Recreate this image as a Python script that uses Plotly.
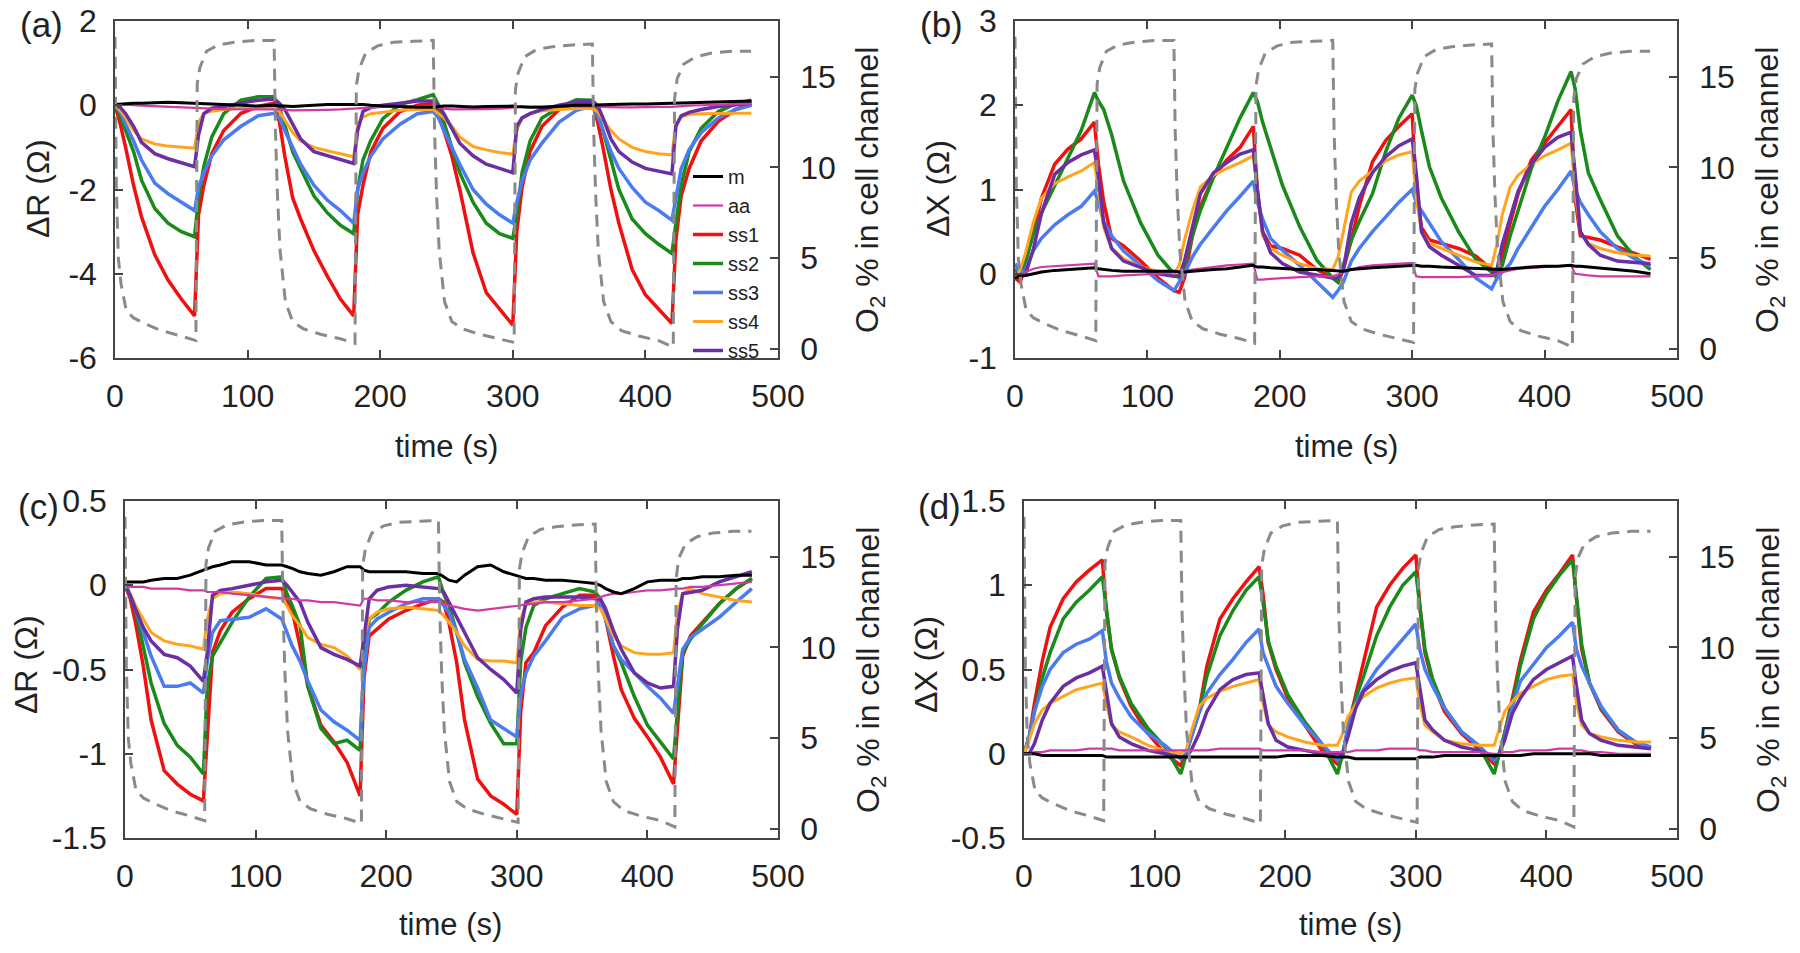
import plotly.graph_objects as go

# ---------------- data ----------------
# common time grid (s) for the impedance traces
T = [0, 4, 8, 14, 20, 30, 40, 50, 60, 63, 67, 73, 82, 95, 108,
     120, 124, 128, 134, 140, 150, 160, 170, 180, 183, 187, 193, 202, 215, 228,
     240, 244, 248, 254, 260, 270, 280, 290, 300, 303, 307, 313, 322, 335, 348,
     360, 364, 368, 374, 380, 390, 400, 410, 420, 423, 427, 433, 442, 455, 468,
     480]

# O2 % in cell channel (dashed grey)
T_O2 = [0, 1, 2.5, 4.5, 8.5, 14, 22, 35, 50, 61, 62, 64, 69, 78, 90, 105, 119.7,
        120, 121, 122.5, 124.5, 128.5, 134, 142, 155, 170, 181, 182, 184, 189, 198, 210, 225, 239.7,
        240, 241, 242.5, 244.5, 248.5, 254, 262, 275, 290, 301, 302, 304, 309, 318, 330, 345, 359.7,
        360, 361, 362.5, 364.5, 368.5, 374, 382, 395, 410, 421, 422, 424, 429, 438, 450, 465, 479.7]
O2 = [17.2, 9.0, 5.0, 3.6, 2.1, 1.7, 1.4, 1.0, 0.7, 0.45, 14.6, 15.5, 16.4, 16.75, 16.9, 17.0, 17.0,
      17.0, 12.0, 8.5, 5.4, 2.6, 1.5, 1.1, 0.8, 0.55, 0.3, 14.5, 15.4, 16.3, 16.7, 16.9, 16.95, 17.0,
      17.0, 12.0, 8.5, 5.4, 2.6, 1.5, 1.1, 0.8, 0.55, 0.35, 14.3, 15.2, 16.1, 16.5, 16.65, 16.75, 16.8,
      16.8, 12.0, 8.5, 5.4, 2.6, 1.5, 1.0, 0.7, 0.45, 0.1, 13.8, 14.9, 15.7, 16.1, 16.3, 16.4, 16.4]

# ---- panel (a): delta R ----
A_m = [0.02, 0.03, 0.04, 0.05, 0.05, 0.06, 0.07, 0.06, 0.05, 0.05, 0.04, 0.03, 0.02, 0.0, -0.02,
       0.0, -0.02, -0.02, -0.03, -0.02, 0.0, 0.02, 0.02, 0.03, 0.02, 0.02, 0.0, -0.02, -0.03, -0.05,
       -0.05, -0.03, -0.02, -0.02, -0.03, -0.04, -0.03, -0.02, -0.02, -0.03, -0.04, -0.05, -0.05, -0.03, 0.0,
       0.0, 0.0, 0.01, 0.02, 0.03, 0.03, 0.03, 0.04, 0.05, 0.05, 0.05, 0.06, 0.07, 0.09, 0.1,
       0.1]
A_aa = [0.03, 0.02, 0.0, 0.0, -0.01, -0.02, -0.03, -0.04, -0.05, -0.06, -0.07, -0.08, -0.09, -0.1, -0.1,
        -0.1, -0.1, -0.11, -0.12, -0.12, -0.12, -0.11, -0.1, -0.08, -0.07, -0.06, -0.05, -0.04, -0.03, -0.02,
        -0.02, -0.05, -0.08, -0.1, -0.1, -0.1, -0.09, -0.08, -0.07, -0.05, -0.04, -0.04, -0.03, -0.02, -0.02,
        -0.02, -0.03, -0.04, -0.05, -0.05, -0.05, -0.04, -0.04, -0.04, -0.03, -0.02, -0.01, 0.0, 0.01, 0.02,
        0.04]
A_ss1 = [0, -0.45, -1.0, -1.9, -2.65, -3.55, -4.15, -4.6, -5.0, -2.6, -1.9, -1.15, -0.6, -0.19, -0.03,
         0.05, -0.4, -1.2, -2.2, -2.7, -3.45, -4.05, -4.6, -5.0, -2.6, -1.9, -1.1, -0.55, -0.15, 0.0,
         0.05, -0.2, -0.6, -1.2, -2.0, -3.5, -4.45, -4.85, -5.22, -3.0, -1.95, -1.1, -0.5, -0.1, 0.05,
         0.05, -0.4, -1.0, -2.0, -2.8, -3.9, -4.5, -4.85, -5.18, -3.2, -2.15, -1.5, -0.85, -0.38, -0.1,
         0.02]
A_ss2 = [0, -0.25, -0.6, -1.1, -1.78, -2.45, -2.8, -3.0, -3.12, -2.2, -1.45, -0.75, -0.2, 0.12, 0.2,
         0.2, -0.05, -0.5, -1.1, -1.5, -2.15, -2.55, -2.85, -3.05, -2.0, -1.3, -0.83, -0.32, 0.02, 0.13,
         0.25, 0.0, -0.4, -1.0, -1.6, -2.3, -2.8, -3.05, -3.16, -2.6, -1.6, -0.85, -0.3, -0.05, 0.13,
         0.12, -0.2, -0.6, -1.3, -2.0, -2.7, -3.05, -3.3, -3.52, -2.8, -1.9, -1.1, -0.55, -0.15, 0.03,
         0.12]
A_ss3 = [0, -0.15, -0.45, -0.85, -1.3, -1.85, -2.1, -2.3, -2.5, -1.95, -1.6, -1.2, -0.82, -0.5, -0.25,
         -0.19, -0.3, -0.6, -1.0, -1.4, -1.9, -2.25, -2.5, -2.8, -2.0, -1.6, -1.2, -0.8, -0.45, -0.2,
         -0.15, -0.3, -0.6, -1.0, -1.4, -2.0, -2.35, -2.6, -2.8, -2.3, -1.8, -1.3, -0.9, -0.4, -0.12,
         -0.02, -0.25, -0.6, -1.1, -1.5, -1.95, -2.3, -2.5, -2.73, -2.2, -1.5, -1.05, -0.65, -0.3, -0.1,
         0.0]
A_ss4 = [0, -0.12, -0.3, -0.6, -0.8, -0.92, -0.97, -1.0, -1.02, -0.4, -0.2, -0.14, -0.1, -0.07, -0.05,
         -0.05, -0.15, -0.35, -0.65, -0.85, -1.0, -1.08, -1.15, -1.22, -0.45, -0.28, -0.2, -0.17, -0.12, -0.1,
         -0.1, -0.2, -0.3, -0.5, -0.75, -0.98, -1.06, -1.12, -1.16, -0.6, -0.3, -0.2, -0.13, -0.1, -0.08,
         -0.08, -0.15, -0.35, -0.6, -0.8, -1.0, -1.1, -1.15, -1.18, -0.45, -0.28, -0.22, -0.2, -0.19, -0.19,
         -0.19]
A_ss5 = [0, -0.05, -0.2, -0.5, -0.88, -1.15, -1.27, -1.36, -1.46, -0.7, -0.2, -0.07, -0.03, 0.05, 0.12,
         0.15, 0.05, -0.1, -0.45, -0.8, -1.1, -1.2, -1.3, -1.38, -0.6, -0.15, -0.05, 0.0, 0.05, 0.1,
         0.1, 0.0, -0.2, -0.55, -0.9, -1.2, -1.4, -1.5, -1.6, -0.5, -0.3, -0.2, -0.1, 0.0, 0.08,
         0.1, 0.0, -0.3, -0.8, -1.1, -1.35, -1.5, -1.57, -1.63, -0.5, -0.25, -0.17, -0.1, -0.03, 0.02,
         0.05]

# ---- panel (b): delta X ----
B_m = [-0.05, -0.03, -0.02, 0.0, 0.02, 0.04, 0.05, 0.06, 0.07, 0.06, 0.05, 0.04, 0.03, 0.03, 0.03,
       0.03, 0.02, 0.02, 0.03, 0.04, 0.05, 0.06, 0.08, 0.1, 0.08, 0.08, 0.07, 0.06, 0.05, 0.05,
       0.04, 0.03, 0.03, 0.05, 0.06, 0.07, 0.08, 0.09, 0.1, 0.1, 0.09, 0.09, 0.08, 0.07, 0.06,
       0.05, 0.05, 0.05, 0.06, 0.07, 0.08, 0.09, 0.09, 0.1, 0.09, 0.09, 0.08, 0.07, 0.05, 0.03,
       0.0]
B_aa = [-0.05, -0.02, 0.02, 0.06, 0.08, 0.09, 0.1, 0.11, 0.12, -0.03, -0.03, -0.03, -0.02, -0.01, 0.0,
        0.02, 0.03, 0.04, 0.05, 0.06, 0.08, 0.1, 0.11, 0.12, -0.07, -0.07, -0.06, -0.05, -0.04, -0.03,
        -0.03, -0.01, 0.02, 0.05, 0.08, 0.1, 0.11, 0.12, 0.13, -0.03, -0.04, -0.04, -0.04, -0.04, -0.03,
        -0.02, 0.0, 0.02, 0.04, 0.06, 0.07, 0.08, 0.09, 0.1, 0.0, -0.01, -0.02, -0.03, -0.03, -0.03,
        -0.03]
B_ss1 = [-0.05, -0.1, 0.15, 0.5, 0.9, 1.3, 1.48, 1.6, 1.8, 1.3, 0.85, 0.42, 0.33, 0.15, -0.05,
         -0.2, -0.22, -0.05, 0.45, 0.8, 1.15, 1.35, 1.5, 1.75, 1.0, 0.5, 0.33, 0.3, 0.22, 0.05,
         -0.05, -0.1, 0.05, 0.4, 0.8, 1.33, 1.58, 1.75, 1.9, 1.0, 0.55, 0.4, 0.36, 0.3, 0.21,
         0.05, 0.0, 0.2, 0.6, 0.95, 1.35, 1.55, 1.75, 1.95, 0.9, 0.45, 0.43, 0.4, 0.32, 0.24,
         0.17]
B_ss2 = [0.05, 0.0, 0.15, 0.48, 0.72, 1.05, 1.38, 1.7, 2.15, 2.05, 1.95, 1.65, 1.1, 0.6, 0.22,
         0.0, -0.05, 0.1, 0.45, 0.75, 1.15, 1.5, 1.85, 2.15, 2.05, 1.8, 1.5, 1.05, 0.56, 0.16,
         -0.05, -0.1, 0.1, 0.4, 0.62, 0.95, 1.45, 1.85, 2.12, 2.0, 1.7, 1.27, 0.9, 0.5, 0.17,
         0.02, -0.05, 0.1, 0.45, 0.75, 1.25, 1.62, 2.05, 2.4, 2.2, 1.7, 1.2, 0.88, 0.45, 0.2,
         0.05]
B_ss3 = [0.12, 0.0, 0.05, 0.28, 0.42, 0.58, 0.7, 0.8, 0.98, 0.85, 0.62, 0.45, 0.27, 0.1, -0.08,
         -0.2, -0.1, 0.0, 0.2, 0.35, 0.55, 0.75, 0.92, 1.1, 0.85, 0.65, 0.42, 0.28, 0.1, -0.1,
         -0.28, -0.2, -0.1, 0.15, 0.3, 0.5, 0.67, 0.85, 1.0, 0.85, 0.75, 0.6, 0.38, 0.17, -0.05,
         -0.18, -0.05, 0.02, 0.12, 0.3, 0.55, 0.8, 1.0, 1.22, 1.0, 0.85, 0.7, 0.5, 0.3, 0.18,
         0.09]
B_ss4 = [-0.05, 0.05, 0.25, 0.62, 0.9, 1.07, 1.15, 1.22, 1.32, 1.0, 0.55, 0.3, 0.18, 0.08, 0.03,
         0.0, 0.1, 0.4, 0.75, 1.03, 1.17, 1.25, 1.32, 1.4, 1.0, 0.45, 0.3, 0.22, 0.12, 0.06,
         0.05, 0.2, 0.5, 0.97, 1.1, 1.22, 1.34, 1.41, 1.45, 0.9, 0.5, 0.36, 0.3, 0.22, 0.14,
         0.1, 0.35, 0.7, 1.03, 1.17, 1.3, 1.4, 1.47, 1.55, 1.0, 0.5, 0.36, 0.3, 0.25, 0.22,
         0.21]
B_ss5 = [0.0, -0.02, 0.0, 0.3, 0.72, 1.18, 1.32, 1.41, 1.47, 1.15, 0.6, 0.3, 0.15, 0.07, 0.0,
         -0.03, -0.03, 0.15, 0.55, 0.95, 1.2, 1.32, 1.42, 1.47, 1.0, 0.5, 0.25, 0.12, 0.02, -0.02,
         -0.05, -0.05, 0.05, 0.6, 0.9, 1.2, 1.39, 1.52, 1.6, 1.2, 0.5, 0.32, 0.22, 0.1, -0.02,
         -0.02, 0.05, 0.35, 0.65, 0.98, 1.3, 1.5, 1.62, 1.68, 1.2, 0.5, 0.35, 0.22, 0.15, 0.13,
         0.12]

# ---- panel (c): delta R ----
C_m = [0.02, 0.02, 0.02, 0.02, 0.03, 0.04, 0.04, 0.06, 0.09, 0.1, 0.11, 0.12, 0.14, 0.14, 0.12,
       0.12, 0.11, 0.1, 0.08, 0.07, 0.06, 0.08, 0.11, 0.11, 0.09, 0.08, 0.08, 0.08, 0.08, 0.07,
       0.07, 0.05, 0.03, 0.02, 0.06, 0.11, 0.12, 0.08, 0.06, 0.05, 0.04, 0.04, 0.03, 0.03, 0.02,
       0.01, 0.0, -0.02, -0.04, -0.05, -0.02, 0.02, 0.03, 0.03, 0.03, 0.04, 0.04, 0.05, 0.05, 0.06,
       0.06]
C_aa = [0.0, -0.01, -0.01, -0.01, -0.02, -0.02, -0.02, -0.03, -0.03, -0.04, -0.04, -0.04, -0.05, -0.06, -0.07,
        -0.08, -0.08, -0.08, -0.09, -0.09, -0.1, -0.1, -0.11, -0.12, -0.08, -0.08, -0.09, -0.09, -0.1, -0.1,
        -0.1, -0.11, -0.12, -0.13, -0.14, -0.15, -0.14, -0.13, -0.12, -0.12, -0.11, -0.11, -0.1, -0.1, -0.09,
        -0.08, -0.07, -0.06, -0.05, -0.05, -0.04, -0.03, -0.03, -0.02, -0.02, -0.02, -0.01, -0.01, 0.0, 0.01,
        0.02]
C_ss1 = [0, -0.08, -0.22, -0.48, -0.8, -1.1, -1.18, -1.24, -1.28, -0.9, -0.4, -0.27, -0.16, -0.08, -0.02,
         -0.02, -0.08, -0.15, -0.36, -0.6, -0.83, -0.93, -1.05, -1.25, -0.55, -0.3, -0.26, -0.2, -0.15, -0.11,
         -0.08, -0.1, -0.22, -0.46, -0.8, -1.15, -1.25, -1.3, -1.36, -0.75, -0.46, -0.4, -0.24, -0.13, -0.06,
         -0.06, -0.12, -0.2, -0.42, -0.62, -0.79, -0.9, -1.02, -1.18, -0.85, -0.42, -0.3, -0.22, -0.11, -0.02,
         0.04]
C_ss2 = [0, -0.06, -0.15, -0.36, -0.58, -0.82, -0.95, -1.02, -1.12, -0.6, -0.42, -0.34, -0.22, -0.07, 0.04,
         0.05, -0.05, -0.12, -0.24, -0.6, -0.85, -0.94, -0.92, -0.98, -0.45, -0.2, -0.17, -0.1, -0.03, 0.02,
         0.05, -0.05, -0.12, -0.28, -0.46, -0.66, -0.82, -0.94, -0.94, -0.45, -0.25, -0.12, -0.08, -0.05, -0.02,
         -0.04, -0.08, -0.2, -0.36, -0.46, -0.66, -0.83, -0.93, -1.03, -0.75, -0.4, -0.32, -0.23, -0.11, -0.02,
         0.04]
C_ss3 = [0.02, -0.06, -0.14, -0.28, -0.42, -0.6, -0.6, -0.58, -0.64, -0.45, -0.28, -0.21, -0.2, -0.19, -0.14,
         -0.2, -0.28, -0.36, -0.45, -0.57, -0.74, -0.81, -0.86, -0.92, -0.5, -0.25, -0.2, -0.16, -0.11, -0.08,
         -0.08, -0.12, -0.16, -0.28, -0.44, -0.61, -0.8, -0.85, -0.9, -0.65, -0.52, -0.42, -0.33, -0.19, -0.14,
         -0.12, -0.1, -0.2, -0.36, -0.44, -0.52, -0.6, -0.67, -0.76, -0.6, -0.38, -0.31, -0.26, -0.19, -0.1,
         -0.02]
C_ss4 = [0, -0.05, -0.12, -0.2, -0.28, -0.33, -0.35, -0.36, -0.38, -0.2, -0.08, -0.05, -0.04, -0.05, -0.07,
         -0.08, -0.12, -0.18, -0.24, -0.31, -0.35, -0.37, -0.42, -0.5, -0.3, -0.2, -0.16, -0.14, -0.13, -0.14,
         -0.15, -0.18, -0.22, -0.28, -0.36, -0.44, -0.45, -0.45, -0.46, -0.2, -0.12, -0.1, -0.1, -0.11, -0.12,
         -0.12, -0.14, -0.2, -0.3, -0.36, -0.4, -0.41, -0.41, -0.4, -0.16, -0.05, -0.02, -0.05, -0.07, -0.09,
         -0.1]
C_ss5 = [0, -0.06, -0.14, -0.25, -0.33, -0.41, -0.43, -0.48, -0.57, -0.4, -0.06, -0.03, -0.02, 0.0, 0.02,
         0.03, 0.0, -0.04, -0.1, -0.22, -0.37, -0.41, -0.44, -0.48, -0.3, -0.08, -0.03, -0.01, 0.0, -0.01,
         -0.02, -0.04, -0.1, -0.2, -0.29, -0.43, -0.5, -0.56, -0.64, -0.26, -0.1, -0.08, -0.07, -0.07, -0.07,
         -0.08, -0.08, -0.14, -0.27, -0.38, -0.52, -0.58, -0.61, -0.6, -0.26, -0.05, -0.04, -0.03, 0.02, 0.05,
         0.08]

# ---- panel (d): delta X ----
D_m = [0.0, 0.0, 0.0, -0.01, -0.01, -0.01, -0.01, -0.01, -0.01, -0.02, -0.02, -0.02, -0.02, -0.02, -0.02,
       -0.02, -0.02, -0.02, -0.02, -0.02, -0.02, -0.02, -0.02, -0.02, -0.02, -0.02, -0.02, -0.01, -0.01, -0.01,
       -0.02, -0.02, -0.02, -0.03, -0.03, -0.03, -0.03, -0.03, -0.03, -0.02, -0.02, -0.02, -0.01, -0.01, -0.01,
       -0.01, -0.01, -0.01, -0.01, -0.01, 0.0, 0.0, 0.0, 0.0, 0.0, 0.0, 0.0, -0.01, -0.01, -0.01,
       -0.01]
D_aa = [0.0, 0.0, 0.01, 0.01, 0.02, 0.02, 0.02, 0.03, 0.03, 0.03, 0.03, 0.02, 0.02, 0.02, 0.02,
        0.02, 0.02, 0.02, 0.02, 0.02, 0.03, 0.03, 0.03, 0.03, 0.02, 0.02, 0.02, 0.02, 0.02, 0.01,
        0.01, 0.01, 0.01, 0.02, 0.02, 0.02, 0.03, 0.03, 0.03, 0.02, 0.02, 0.01, 0.01, 0.01, 0.01,
        0.0, 0.0, 0.01, 0.01, 0.02, 0.02, 0.02, 0.03, 0.03, 0.02, 0.02, 0.01, 0.01, 0.0, 0.0,
        0.0]
D_ss1 = [0, 0.1, 0.3, 0.55, 0.75, 0.92, 1.02, 1.09, 1.15, 0.85, 0.62, 0.45, 0.28, 0.12, 0.0,
         -0.07, 0.0, 0.1, 0.25, 0.52, 0.8, 0.92, 1.02, 1.11, 0.95, 0.66, 0.5, 0.33, 0.17, 0.02,
         -0.06, -0.02, 0.15, 0.35, 0.55, 0.87, 1.0, 1.1, 1.18, 0.88, 0.6, 0.42, 0.25, 0.12, 0.03,
         -0.06, 0.0, 0.12, 0.33, 0.55, 0.84, 0.97, 1.07, 1.18, 0.92, 0.62, 0.42, 0.26, 0.13, 0.06,
         0.03]
D_ss2 = [0.0, 0.1, 0.25, 0.45, 0.6, 0.8, 0.9, 0.97, 1.05, 0.85, 0.62, 0.46, 0.3, 0.15, 0.04,
         -0.12, 0.0, 0.1, 0.25, 0.46, 0.7, 0.85, 0.97, 1.05, 0.9, 0.67, 0.52, 0.35, 0.19, 0.06,
         -0.12, 0.0, 0.15, 0.33, 0.46, 0.7, 0.87, 1.0, 1.08, 0.88, 0.62, 0.44, 0.27, 0.13, 0.05,
         -0.12, 0.0, 0.1, 0.3, 0.52, 0.8, 0.95, 1.06, 1.15, 0.95, 0.65, 0.42, 0.27, 0.14, 0.07,
         0.03]
D_ss3 = [0.0, 0.1, 0.25, 0.4, 0.5, 0.6, 0.65, 0.68, 0.73, 0.55, 0.42, 0.33, 0.22, 0.12, 0.05,
         -0.03, 0.0, 0.1, 0.24, 0.36, 0.47, 0.56, 0.66, 0.74, 0.6, 0.52, 0.4, 0.3, 0.17, 0.06,
         -0.04, 0.0, 0.15, 0.3, 0.38, 0.5, 0.59, 0.68, 0.77, 0.62, 0.5, 0.4, 0.27, 0.13, 0.05,
         -0.04, 0.0, 0.1, 0.28, 0.43, 0.53, 0.63, 0.7, 0.78, 0.62, 0.52, 0.42, 0.28, 0.14, 0.07,
         0.04]
D_ss4 = [0.0, 0.08, 0.18, 0.26, 0.3, 0.34, 0.38, 0.4, 0.42, 0.3, 0.17, 0.13, 0.1, 0.05, 0.02,
         0.0, 0.02, 0.13, 0.28, 0.33, 0.37, 0.4, 0.42, 0.44, 0.3, 0.17, 0.13, 0.1, 0.07, 0.05,
         0.05, 0.12, 0.22, 0.29, 0.34, 0.39, 0.42, 0.44, 0.45, 0.3, 0.17, 0.13, 0.08, 0.06, 0.05,
         0.05, 0.15, 0.25, 0.31, 0.36, 0.4, 0.44, 0.46, 0.47, 0.3, 0.17, 0.12, 0.1, 0.08, 0.07,
         0.07]
D_ss5 = [0.0, 0.0, 0.06, 0.2, 0.3, 0.4, 0.45, 0.48, 0.52, 0.38, 0.18, 0.1, 0.06, 0.02, 0.0,
         -0.02, -0.02, 0.02, 0.12, 0.25, 0.38, 0.44, 0.47, 0.48, 0.35, 0.18, 0.08, 0.04, 0.02, 0.0,
         0.0, 0.0, 0.1, 0.27, 0.37, 0.44, 0.49, 0.52, 0.54, 0.38, 0.2, 0.14, 0.08, 0.04, 0.02,
         -0.02, 0.0, 0.08, 0.24, 0.33, 0.44, 0.5, 0.54, 0.58, 0.4, 0.2, 0.12, 0.08, 0.05, 0.04,
         0.03]

SERIES = ["ss1", "ss2", "ss3", "ss4", "ss5", "aa", "m"]
COLORS = {"m": "#000000", "aa": "#cf3aa6", "ss1": "#f01010", "ss2": "#1a8a1a",
          "ss3": "#4a7cf0", "ss4": "#ffa41c", "ss5": "#6b2ea3"}
WIDTHS = {"m": 3, "aa": 2.2, "ss1": 3.5, "ss2": 3.5, "ss3": 3.5, "ss4": 3, "ss5": 3.5}
RANK = {"m": 1, "aa": 2, "ss1": 3, "ss2": 4, "ss3": 5, "ss4": 6, "ss5": 7}

PANELS = [
    dict(data={"m": A_m, "aa": A_aa, "ss1": A_ss1, "ss2": A_ss2, "ss3": A_ss3, "ss4": A_ss4, "ss5": A_ss5},
         x="x", y="y", y2="y2"),
    dict(data={"m": B_m, "aa": B_aa, "ss1": B_ss1, "ss2": B_ss2, "ss3": B_ss3, "ss4": B_ss4, "ss5": B_ss5},
         x="x2", y="y3", y2="y4"),
    dict(data={"m": C_m, "aa": C_aa, "ss1": C_ss1, "ss2": C_ss2, "ss3": C_ss3, "ss4": C_ss4, "ss5": C_ss5},
         x="x3", y="y5", y2="y6"),
    dict(data={"m": D_m, "aa": D_aa, "ss1": D_ss1, "ss2": D_ss2, "ss3": D_ss3, "ss4": D_ss4, "ss5": D_ss5},
         x="x4", y="y7", y2="y8"),
]

# ---------------- figure ----------------
fig = go.Figure()
for i, p in enumerate(PANELS):
    for name in SERIES:
        fig.add_trace(go.Scatter(
            x=T, y=p["data"][name], mode="lines", name=name,
            line=dict(color=COLORS[name], width=WIDTHS[name]),
            xaxis=p["x"], yaxis=p["y"], showlegend=(i == 0), legendrank=RANK[name]))
    fig.add_trace(go.Scatter(
        x=T_O2, y=O2, mode="lines", name="O2",
        line=dict(color="#8a8a8a", width=3, dash="12px,8px"),
        xaxis=p["x"], yaxis=p["y2"], showlegend=False))

FONT = "Liberation Sans, Arial, Helvetica, sans-serif"
TXT = "#222222"
W, H = 1800, 953

def px_x(v):
    return v / W

def px_y(v):
    return 1 - v / H

axcommon = dict(showline=True, linecolor="#444444", linewidth=1.5, ticks="inside", ticklen=8,
                tickwidth=1.5, tickcolor="#444444", showgrid=False, zeroline=False, automargin=False,
                tickfont=dict(family=FONT, size=32, color=TXT))

xdom = [[px_x(115), px_x(778)], [px_x(1015), px_x(1677)], [px_x(125), px_x(778)], [px_x(1024), px_x(1677)]]
ydom = [[px_y(358), px_y(21)], [px_y(358), px_y(21)], [px_y(838), px_y(501)], [px_y(838), px_y(501)]]
yranges = [[-6, 2], [-1, 3], [-1.5, 0.5], [-0.5, 1.5]]
yticks = [([-6, -4, -2, 0, 2], ["-6", "-4", "-2", "0", "2"]),
          ([-1, 0, 1, 2, 3], ["-1", "0", "1", "2", "3"]),
          ([-1.5, -1, -0.5, 0, 0.5], ["-1.5", "-1", "-0.5", "0", "0.5"]),
          ([-0.5, 0, 0.5, 1, 1.5], ["-0.5", "0", "0.5", "1", "1.5"])]

layout = dict(width=W, height=H, margin=dict(l=0, r=0, t=0, b=0, autoexpand=False),
              paper_bgcolor="white", plot_bgcolor="white",
              font=dict(family=FONT, color=TXT), showlegend=True,
              legend=dict(x=px_x(688), y=px_y(157), xanchor="left", yanchor="top",
                          bgcolor="rgba(0,0,0,0)", font=dict(family=FONT, size=20, color=TXT),
                          tracegroupgap=0, itemwidth=30))
for i, p in enumerate(PANELS):
    xn = "xaxis" + ("" if i == 0 else str(i + 1))
    yn = "yaxis" + p["y"][1:]
    y2n = "yaxis" + p["y2"][1:]
    layout[xn] = dict(axcommon, domain=xdom[i], anchor=p["y"], range=[0, 500],
                      tickvals=[0, 100, 200, 300, 400, 500], mirror="ticks", ticklabelstandoff=9)
    layout[yn] = dict(axcommon, domain=ydom[i], anchor=p["x"], range=yranges[i],
                      tickvals=yticks[i][0], ticktext=yticks[i][1], ticklabelstandoff=10)
    layout[y2n] = dict(axcommon, overlaying=p["y"], side="right", anchor=p["x"],
                       range=[-0.51, 18.07], tickvals=[0, 5, 10, 15], ticklabelstandoff=14)
fig.update_layout(**layout)

# panel labels and axis titles
ann = []
for lab, xx, yy in [("(a)", 18, 24), ("(b)", 918, 24), ("(c)", 16, 506), ("(d)", 916, 506)]:
    ann.append(dict(text=lab, x=px_x(xx), y=px_y(yy), xref="paper", yref="paper",
                    xanchor="left", yanchor="middle", showarrow=False,
                    font=dict(family=FONT, size=35, color=TXT)))
for xx, yy in [(446, 446), (1346, 446), (451, 924), (1350, 924)]:
    ann.append(dict(text="time (s)", x=px_x(xx), y=px_y(yy), xref="paper", yref="paper",
                    xanchor="center", yanchor="middle", showarrow=False,
                    font=dict(family=FONT, size=31, color=TXT)))
for txt, xx, yy in [("ΔR (Ω)", 38, 189), ("ΔX (Ω)", 938, 189), ("ΔR (Ω)", 26, 665), ("ΔX (Ω)", 926, 665)]:
    ann.append(dict(text=txt, x=px_x(xx), y=px_y(yy), xref="paper", yref="paper", textangle=-90,
                    xanchor="center", yanchor="middle", showarrow=False,
                    font=dict(family=FONT, size=32, color=TXT)))
for xx, yy in [(870, 190), (1770, 190), (870, 670), (1770, 670)]:
    ann.append(dict(text="O<sub>2</sub> % in cell channel", x=px_x(xx), y=px_y(yy), xref="paper",
                    yref="paper", textangle=-90, xanchor="center", yanchor="middle",
                    showarrow=False, font=dict(family=FONT, size=32, color=TXT)))
fig.update_layout(annotations=ann)

fig.write_html("out.html", config={"displayModeBar": False},
               post_script="document.body.style.margin='0px';")
